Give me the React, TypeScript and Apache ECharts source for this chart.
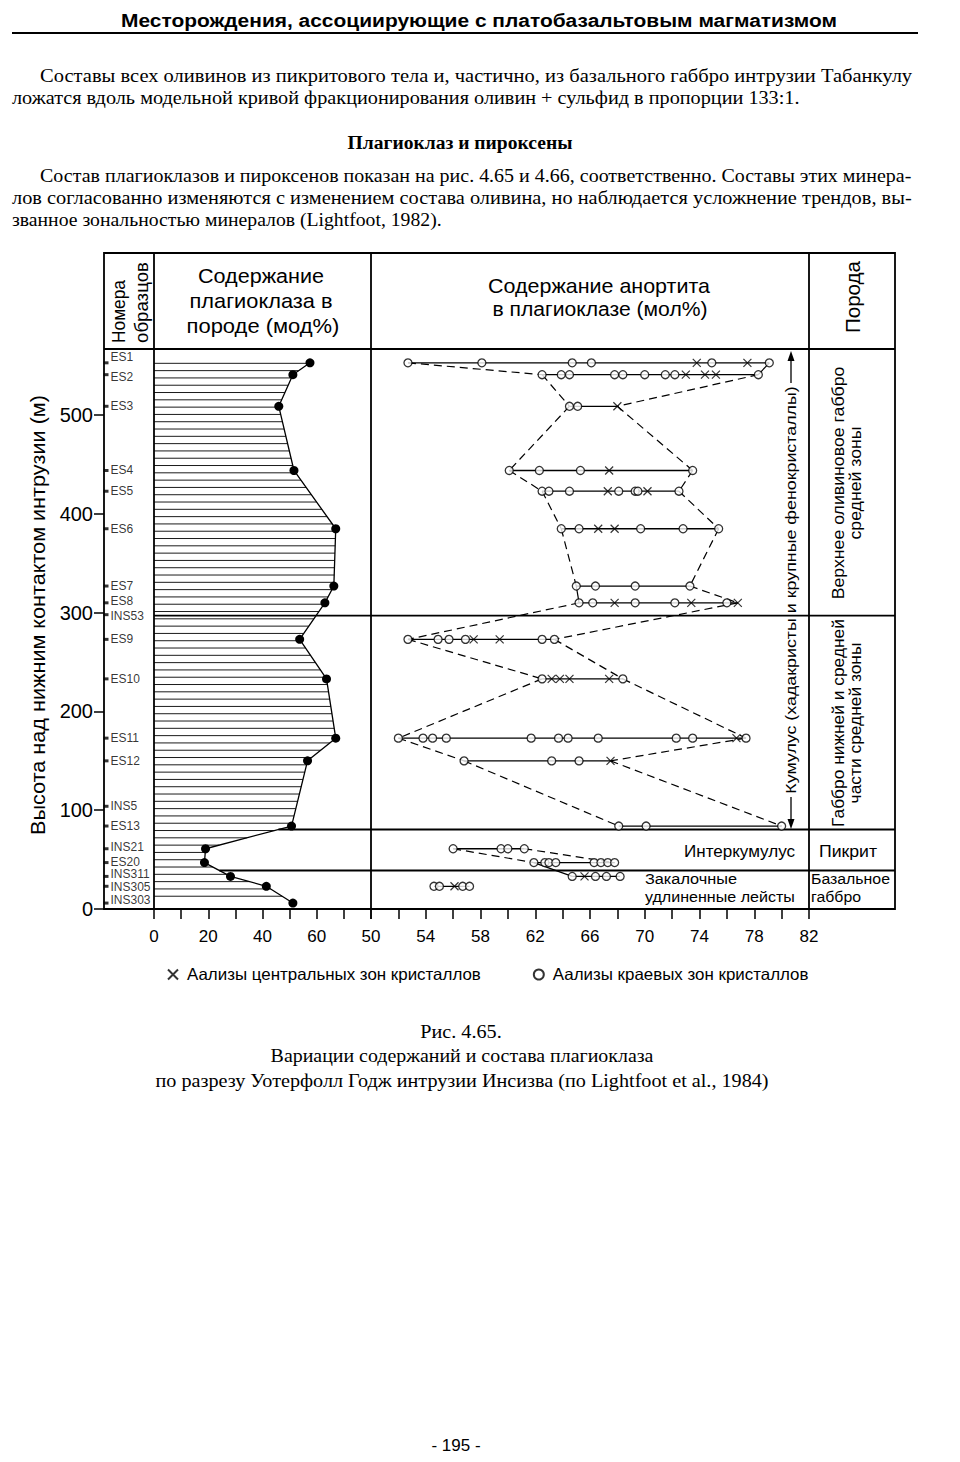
import React, { useEffect, useRef } from 'react';
import * as echarts from 'echarts';

// ---------------- data ----------------
const sampleNames = ['ES1', 'ES2', 'ES3', 'ES4', 'ES5', 'ES6', 'ES7', 'ES8', 'INS53', 'ES9', 'ES10', 'ES11', 'ES12', 'INS5', 'ES13', 'INS21', 'ES20', 'INS311', 'INS305', 'INS303'];
const sampleHeights = [553, 541, 509, 444, 423, 385, 327, 310, 298, 273, 233, 173, 150, 104, 84, 61, 47, 33, 23, 6];

const plagSamples = ['ES1', 'ES2', 'ES3', 'ES4', 'ES6', 'ES7', 'ES8', 'ES9', 'ES10', 'ES11', 'ES12', 'ES13', 'INS21', 'ES20', 'INS311', 'INS305', 'INS303'];
const plagContent = [57.5, 51.2, 46.0, 51.6, 67.0, 66.3, 63.0, 53.7, 63.6, 67.0, 56.6, 50.7, 19.0, 18.6, 28.2, 41.4, 51.2];

const anRows = ['ES1', 'ES2', 'ES3', 'ES4', 'ES5', 'ES6', 'ES7', 'ES8', 'ES9', 'ES10', 'ES11', 'ES12', 'ES13', 'INS21', 'ES20', 'INS311', 'INS305'];
const anRim = [
  [52.7, 58.1, 64.7, 66.1, 74.9, 79.1],
  [62.5, 63.9, 64.5, 67.8, 68.4, 70.0, 71.5, 72.2, 78.3],
  [64.5, 65.1],
  [60.1, 62.3, 65.3, 73.5],
  [62.5, 63.0, 64.5, 68.1, 69.3, 69.5, 72.5],
  [63.9, 65.2, 69.7, 72.8, 75.4],
  [65.0, 66.4, 69.3, 73.3],
  [65.2, 66.2, 69.3, 72.2, 76.0],
  [52.7, 54.9, 55.7, 56.9, 62.5, 63.4],
  [62.5, 68.4],
  [52.0, 53.8, 54.5, 55.5, 61.7, 63.7, 64.4, 66.6, 72.3, 73.5, 77.4],
  [56.8, 63.2, 65.2],
  [68.1, 70.1, 80.0],
  [56.0, 59.5, 60.0, 61.2],
  [61.9, 62.7, 63.0, 63.5, 66.3, 66.8, 67.3, 67.8],
  [64.7, 66.4, 67.2, 68.2],
  [54.6, 55.0, 56.7, 57.2],
];
const anCore = [
  [73.8, 77.5],
  [73.0, 74.4, 75.2],
  [68.0],
  [67.4],
  [67.3, 70.2],
  [66.6, 67.8],
  [],
  [67.8, 73.4, 76.8],
  [57.5, 59.4],
  [63.2, 63.8, 64.5, 67.4],
  [76.7],
  [67.5],
  [],
  [],
  [],
  [65.6],
  [56.1],
];

// envelope links between rows: [from, to, side, dashed]
const envelopeLinks: [string, string, 'min' | 'max', boolean][] = [
  ['ES1', 'ES2', 'min', true], ['ES2', 'ES3', 'min', true], ['ES3', 'ES4', 'min', true],
  ['ES4', 'ES5', 'min', true], ['ES5', 'ES6', 'min', true], ['ES6', 'ES7', 'min', true],
  ['ES7', 'ES8', 'min', false], ['ES8', 'ES9', 'min', true], ['ES9', 'ES10', 'min', true],
  ['ES10', 'ES11', 'min', true], ['ES11', 'ES12', 'min', true], ['ES12', 'ES13', 'min', true],
  ['ES1', 'ES2', 'max', false], ['ES2', 'ES3', 'max', true], ['ES3', 'ES4', 'max', true],
  ['ES4', 'ES5', 'max', true], ['ES5', 'ES6', 'max', true], ['ES6', 'ES7', 'max', true],
  ['ES7', 'ES8', 'max', true], ['ES8', 'ES9', 'max', true], ['ES9', 'ES10', 'max', true],
  ['ES10', 'ES11', 'max', true], ['ES11', 'ES12', 'max', true], ['ES12', 'ES13', 'max', true],
  ['INS21', 'ES20', 'min', true], ['INS21', 'ES20', 'max', true], ['ES20', 'INS311', 'min', false],
];

const zoneBounds = [297, 80.5, 39];
const zoneFromCurve = [false, true, true];

const yTicks = [0, 100, 200, 300, 400, 500];
const plagTicks = [0, 10, 20, 30, 40, 50, 60, 70, 80];
const plagLabels = [0, 20, 40, 60];
const anTicks = [50, 52, 54, 56, 58, 60, 62, 64, 66, 68, 70, 72, 74, 76, 78, 80, 82];
const anLabels = [50, 54, 58, 62, 66, 70, 74, 78, 82];

const coreName = 'Аализы центральных зон кристаллов';
const rimName = 'Аализы краевых зон кристаллов';

// ---------------- layout ----------------
const SANS = 'Liberation Sans';
const SERIF = 'Liberation Serif';
const TOP = 349;
const BOTTOM = 909;
const FRAME_L = 104;
const FRAME_R = 895;
const FRAME_T = 253;
const COL1 = 154;
const COL2 = 371;
const COL3 = 809;
const HATCH_STEP = 7.3;
// vertical nudges (px) of crowded sample labels
const labelShift: Record<string, number> = { ES1: -6, ES2: 2, ES8: -2, INS53: 1, INS21: -2, ES20: -1, INS311: -2, INS305: 1, INS303: -3 };

let measureCtx: CanvasRenderingContext2D | null = null;
function measure(text: string, size: number, family: string, weight = 'normal') {
  if (!measureCtx) measureCtx = document.createElement('canvas').getContext('2d');
  measureCtx!.font = `${weight} ${size}px "${family}"`;
  return measureCtx!.measureText(text).width;
}
function scaleFor(text: string, size: number, family: string, width: number, weight = 'normal') {
  return width / measure(text, size, family, weight);
}
function txt(text: string, o: { x: number; y: number; size: number; family?: string; weight?: string; width?: number; scale?: number; align?: string; rotate?: boolean }) {
  const family = o.family || SANS;
  const weight = o.weight || 'normal';
  const s = o.width ? scaleFor(text, o.size, family, o.width, weight) : (o.scale ?? 1);
  const align = o.align || 'left';
  return {
    type: 'text', x: o.x, y: o.y, rotation: o.rotate ? Math.PI / 2 : 0, scaleX: s, silent: true, z: 10,
    style: {
      text, fontSize: o.size, fontFamily: family, fontWeight: weight, fill: '#000',
      align, verticalAlign: 'middle', textAlign: align, textVerticalAlign: 'middle',
    },
  };
}
function ln(x1: number, y1: number, x2: number, y2: number, w = 1.8) {
  return { type: 'line', silent: true, z: 9, shape: { x1, y1, x2, y2 }, style: { stroke: '#000', lineWidth: w } };
}

const heightOf = (n: string) => sampleHeights[sampleNames.indexOf(n)];
const rowIdx = (n: string) => anRows.indexOf(n);
const rowMin = (i: number) => Math.min(...anRim[i], ...anCore[i]);
const rowMax = (i: number) => Math.max(...anRim[i], ...anCore[i]);

function curveX(pts: number[][], yy: number) {
  for (let i = 0; i < pts.length - 1; i++) {
    const a = pts[i], b = pts[i + 1];
    if (yy >= a[1] && yy <= b[1]) {
      const t = b[1] === a[1] ? 0 : (yy - a[1]) / (b[1] - a[1]);
      return a[0] + (b[0] - a[0]) * t;
    }
  }
  return pts[pts.length - 1][0];
}

function buildOption() {
  const axisText = { color: '#000', fontFamily: SANS };
  const legendSize = 16 * 294 / measure(coreName, 16, SANS);

  const p1 = 'Составы всех оливинов из пикритового тела и, частично, из базального габбро интрузии Табанкулу';
  const p2 = 'ложатся вдоль модельной кривой фракционирования оливин + сульфид в пропорции 133:1.';
  const q1 = 'Состав плагиоклазов и пироксенов показан на рис. 4.65 и 4.66, соответственно. Составы этих минера-';
  const q2 = 'лов согласованно изменяются с изменением состава оливина, но наблюдается усложнение трендов, вы-';
  const q3 = 'званное зональностью минералов (Lightfoot, 1982).';
  const c2 = 'Вариации содержаний и состава плагиоклаза';
  const c3 = 'по разрезу Уотерфолл Годж интрузии Инсизва (по Lightfoot et al., 1984)';
  const capScale = scaleFor(c3, 18, SERIF, 614);
  const zoneUp1 = 'Верхнее оливиновое габбро';
  const zoneUpScale = scaleFor(zoneUp1, 16, SANS, 233);
  const zoneLo1 = 'Габбро нижней и средней';
  const zoneLoScale = scaleFor(zoneLo1, 16, SANS, 208);

  const graphic: any[] = [
    // page texts
    txt('Месторождения, ассоциирующие с платобазальтовым магматизмом', { x: 479, y: 20, size: 19, weight: 'bold', width: 716, align: 'center' }),
    ln(12, 33, 918, 33, 2),
    txt(p1, { x: 40, y: 76, size: 18, family: SERIF, width: 872 }),
    txt(p2, { x: 12, y: 98, size: 18, family: SERIF, width: 788 }),
    txt('Плагиоклаз и пироксены', { x: 460, y: 143, size: 18, family: SERIF, weight: 'bold', width: 225, align: 'center' }),
    txt(q1, { x: 40, y: 176, size: 18, family: SERIF, width: 872 }),
    txt(q2, { x: 12, y: 198, size: 18, family: SERIF, width: 900 }),
    txt(q3, { x: 12, y: 220, size: 18, family: SERIF, width: 430 }),
    txt('Рис. 4.65.', { x: 461, y: 1032, size: 18, family: SERIF, scale: capScale, align: 'center' }),
    txt(c2, { x: 462, y: 1056, size: 18, family: SERIF, width: 383, align: 'center' }),
    txt(c3, { x: 462, y: 1081, size: 18, family: SERIF, width: 614, align: 'center' }),
    txt('- 195 -', { x: 456, y: 1445, size: 17, align: 'center' }),

    // frame
    { type: 'rect', silent: true, z: 9, shape: { x: FRAME_L, y: FRAME_T, width: FRAME_R - FRAME_L, height: BOTTOM - FRAME_T }, style: { fill: 'none', stroke: '#000', lineWidth: 1.8 } },
    ln(FRAME_L, TOP, FRAME_R, TOP),
    ln(COL1, FRAME_T, COL1, BOTTOM),
    ln(COL2, FRAME_T, COL2, BOTTOM),
    ln(COL3, FRAME_T, COL3, BOTTOM),

    // headers
    txt('Номера', { x: 119, y: 343, size: 18, width: 63, rotate: true }),
    txt('образцов', { x: 142, y: 343, size: 18, width: 81, rotate: true }),
    txt('Содержание', { x: 261, y: 276, size: 21, width: 126, align: 'center' }),
    txt('плагиоклаза в', { x: 261, y: 301, size: 21, width: 143, align: 'center' }),
    txt('породе (мод%)', { x: 263, y: 326, size: 21, width: 153, align: 'center' }),
    txt('Содержание анортита', { x: 599, y: 286, size: 21, width: 222, align: 'center' }),
    txt('в плагиоклазе (мол%)', { x: 600, y: 309, size: 21, width: 215, align: 'center' }),
    txt('Порода', { x: 853, y: 297, size: 20, width: 72, rotate: true, align: 'center' }),

    // y axis title
    txt('Высота над нижним контактом интрузии (м)', { x: 38, y: 615, size: 20, width: 440, rotate: true, align: 'center' }),

    // cumulus arrow
    txt('Кумулус (хадакристы и крупные фенокристаллы)', { x: 791, y: 590, size: 15, width: 408, rotate: true, align: 'center' }),
    ln(791, 358, 791, 383, 1.3),
    ln(791, 797, 791, 822, 1.3),
    { type: 'polygon', silent: true, z: 9, shape: { points: [[791, 351], [787.5, 361], [794.5, 361]] }, style: { fill: '#000' } },
    { type: 'polygon', silent: true, z: 9, shape: { points: [[791, 829], [787.5, 819], [794.5, 819]] }, style: { fill: '#000' } },

    // rock column
    txt(zoneUp1, { x: 839, y: 483, size: 16, scale: zoneUpScale, rotate: true, align: 'center' }),
    txt('средней зоны', { x: 856, y: 483, size: 16, scale: zoneUpScale, rotate: true, align: 'center' }),
    txt(zoneLo1, { x: 839, y: 723, size: 16, scale: zoneLoScale, rotate: true, align: 'center' }),
    txt('части средней зоны', { x: 856, y: 723, size: 16, scale: zoneLoScale, rotate: true, align: 'center' }),
    txt('Пикрит', { x: 848, y: 852, size: 16, width: 58, align: 'center' }),
    txt('Базальное', { x: 811, y: 879, size: 15, width: 79 }),
    txt('габбро', { x: 811, y: 897, size: 15, scale: scaleFor('Базальное', 15, SANS, 79) }),

    // anorthite panel labels
    txt('Интеркумулус', { x: 795, y: 852, size: 16, width: 111, align: 'right' }),
    txt('Закалочные', { x: 645, y: 879, size: 15, width: 92 }),
    txt('удлиненные лейсты', { x: 645, y: 897, size: 15, width: 150 }),
  ];

  const plagData = plagSamples.map((n, i) => [plagContent[i], heightOf(n)]);

  const series: any[] = [
    {
      type: 'scatter', name: 'samples', xAxisIndex: 0, yAxisIndex: 0, silent: true, z: 5,
      symbol: 'rect', symbolSize: [5, 3],
      itemStyle: { color: '#000' },
      label: { show: true, position: 'right', distance: 2, formatter: '{b}', fontSize: 12, fontFamily: SANS, color: '#000' },
      data: sampleNames.map((n, i) => ({
        name: n, value: [2, sampleHeights[i]],
        label: { offset: [0, labelShift[n] || 0] },
      })),
    },
    {
      type: 'custom', name: 'hatch', xAxisIndex: 1, yAxisIndex: 1, silent: true, clip: false, z: 1,
      data: [[0, 0]],
      renderItem: (_p: any, api: any) => {
        const pts = plagData.map((d) => api.coord(d));
        const x0 = api.coord([0, 0])[0];
        const children: any[] = [];
        for (let yy = pts[0][1] + 0.5; yy <= pts[pts.length - 1][1]; yy += HATCH_STEP) {
          const x = curveX(pts, yy);
          children.push({ type: 'line', shape: { x1: x0, y1: yy, x2: x, y2: yy }, style: { stroke: '#000', lineWidth: 0.9 } });
        }
        return { type: 'group', children };
      },
    },
    {
      type: 'custom', name: 'zones', xAxisIndex: 1, yAxisIndex: 1, silent: true, clip: false, z: 2,
      data: zoneBounds.map((h, i) => [0, h, zoneFromCurve[i] ? 1 : 0]),
      renderItem: (_p: any, api: any) => {
        const pts = plagData.map((d) => api.coord(d));
        const p = api.coord([0, api.value(1)]);
        const x1 = api.value(2) ? curveX(pts, p[1]) : p[0];
        return { type: 'line', shape: { x1, y1: p[1], x2: FRAME_R, y2: p[1] }, style: { stroke: '#000', lineWidth: 1.8 } };
      },
    },
    {
      type: 'line', name: 'plag', xAxisIndex: 1, yAxisIndex: 1, silent: true, z: 4,
      symbol: 'circle', symbolSize: 9, showSymbol: true,
      itemStyle: { color: '#000' }, lineStyle: { color: '#000', width: 1.3 },
      data: plagData,
    },
    {
      type: 'custom', name: 'rows', xAxisIndex: 2, yAxisIndex: 2, silent: true, clip: false, z: 3,
      encode: { x: [0, 2], y: 1 },
      data: anRows.map((n, i) => [rowMin(i), heightOf(n), rowMax(i)]),
      renderItem: (_p: any, api: any) => {
        const a = api.coord([api.value(0), api.value(1)]);
        const b = api.coord([api.value(2), api.value(1)]);
        return { type: 'line', shape: { x1: a[0], y1: a[1], x2: b[0], y2: b[1] }, style: { stroke: '#000', lineWidth: 1.3 } };
      },
    },
    {
      type: 'custom', name: 'envelope', xAxisIndex: 2, yAxisIndex: 2, silent: true, clip: false, z: 3,
      encode: { x: [0, 2], y: [1, 3] },
      data: envelopeLinks.map(([f, t, side, dashed]) => {
        const fi = rowIdx(f), ti = rowIdx(t);
        const v = side === 'min' ? rowMin : rowMax;
        return [v(fi), heightOf(f), v(ti), heightOf(t), dashed ? 1 : 0];
      }),
      renderItem: (_p: any, api: any) => {
        const a = api.coord([api.value(0), api.value(1)]);
        const b = api.coord([api.value(2), api.value(3)]);
        return {
          type: 'line', shape: { x1: a[0], y1: a[1], x2: b[0], y2: b[1] },
          style: { stroke: '#000', lineWidth: 1.2, lineDash: api.value(4) ? [8, 5] : null },
        };
      },
    },
    {
      type: 'scatter', name: rimName, xAxisIndex: 2, yAxisIndex: 2, silent: true, z: 6,
      symbol: 'circle', symbolSize: 8,
      itemStyle: { color: '#fff', borderColor: '#000', borderWidth: 1.3 },
      data: anRows.flatMap((n, i) => anRim[i].map((v) => [v, heightOf(n)])),
    },
    {
      type: 'scatter', name: coreName, xAxisIndex: 2, yAxisIndex: 2, silent: true, z: 7,
      symbol: 'path://M0,0L10,10M10,0L0,10', symbolSize: 8,
      itemStyle: { color: 'rgba(0,0,0,0)', borderColor: '#000', borderWidth: 1.2 },
      data: anRows.flatMap((n, i) => anCore[i].map((v) => [v, heightOf(n)])),
    },
  ];

  const gridCommon = { top: TOP, height: BOTTOM - TOP, containLabel: false };
  const yCommon = { type: 'value', min: 0, max: 567, splitLine: { show: false }, axisLine: { show: false } };

  return {
    animation: false,
    backgroundColor: '#fff',
    graphic,
    legend: {
      data: [coreName, rimName],
      left: 162, top: 961, orient: 'horizontal',
      itemWidth: 10, itemHeight: 10, itemGap: 52,
      selectedMode: false,
      textStyle: { fontSize: legendSize, fontFamily: SANS, color: '#000', padding: [0, 0, 0, 4] },
    },
    grid: [
      { ...gridCommon, left: FRAME_L, width: COL1 - FRAME_L },
      { ...gridCommon, left: COL1, width: COL2 - COL1 },
      { ...gridCommon, left: COL2, width: COL3 - COL2 },
    ],
    xAxis: [
      { type: 'value', gridIndex: 0, min: 0, max: 50, show: false },
      {
        type: 'value', gridIndex: 1, min: 0, max: 80, splitLine: { show: false }, axisLine: { show: false },
        axisTick: { show: true, length: 10, customValues: plagTicks, lineStyle: { color: '#000', width: 1.5 } },
        axisLabel: { customValues: plagLabels, fontSize: 17, margin: 19, ...axisText },
      },
      {
        type: 'value', gridIndex: 2, min: 50, max: 82, splitLine: { show: false }, axisLine: { show: false },
        axisTick: { show: true, length: 10, customValues: anTicks, lineStyle: { color: '#000', width: 1.5 } },
        axisLabel: { customValues: anLabels, fontSize: 17, margin: 19, ...axisText },
      },
    ],
    yAxis: [
      {
        ...yCommon, gridIndex: 0,
        axisTick: { show: true, length: 10, customValues: yTicks, lineStyle: { color: '#000', width: 1.5 } },
        axisLabel: { customValues: yTicks, fontSize: 20, margin: 11, ...axisText },
      },
      { ...yCommon, gridIndex: 1, show: false },
      { ...yCommon, gridIndex: 2, show: false },
    ],
    series,
  };
}

export default function App() {
  const ref = useRef<HTMLDivElement>(null);
  useEffect(() => {
    document.body.style.margin = '0';
    const chart = echarts.init(ref.current!, undefined, { renderer: 'svg' });
    chart.setOption(buildOption() as any);
    return () => chart.dispose();
  }, []);
  return <div ref={ref} style={{ position: 'absolute', left: 0, top: 0, width: 960, height: 1462, background: '#fff' }} />;
}
